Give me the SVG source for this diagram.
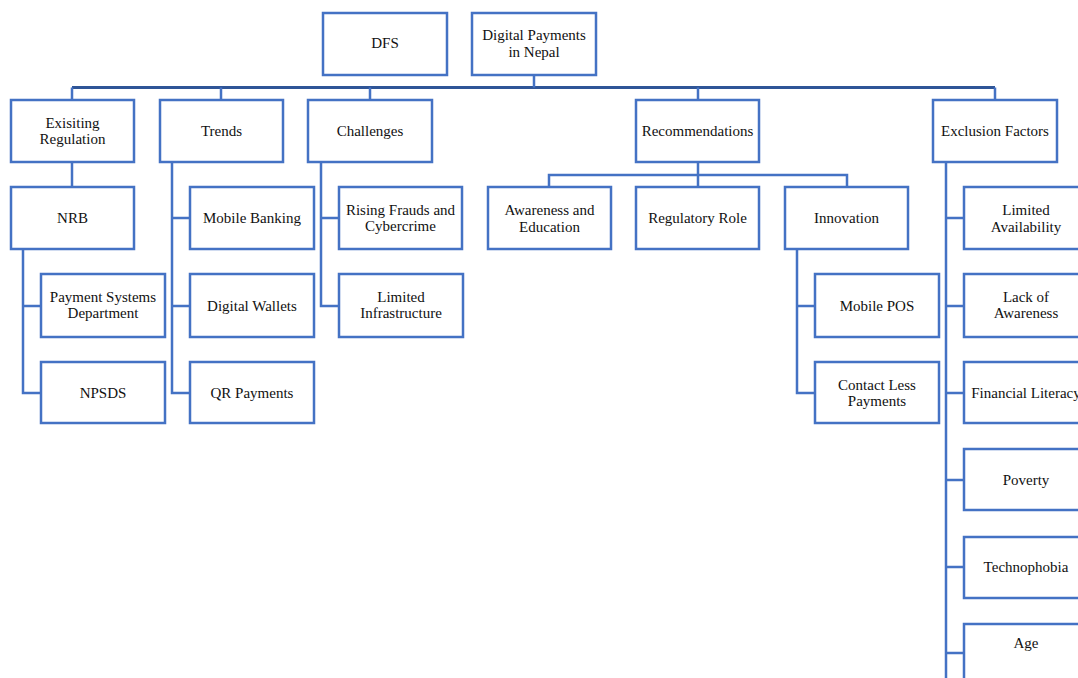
<svg xmlns="http://www.w3.org/2000/svg" width="1078" height="678" viewBox="0 0 1078 678">
  <style>
    .box { fill: #ffffff; stroke: #4472C4; stroke-width: 2.5; }
    .lbl { font-family: "Liberation Serif", "Times New Roman", serif; font-size: 15px; fill: #111111; text-anchor: middle; }
    .wire { fill: none; stroke: #4472C4; stroke-width: 2.5; }
    .bus { fill: none; stroke: #2F5597; stroke-width: 3; }
  </style>
  <rect width="1078" height="678" fill="#ffffff"/>

  <!-- connectors -->
  <g id="connectors">
    <path class="bus" d="M72 87.5 H995"/>
    <path class="wire" d="M534 75 V87.5"/>
    <path class="wire" d="M72 87.5 V100 M221 87.5 V100 M370 87.5 V100 M698 87.5 V100 M995 87.5 V100"/>
    <!-- Exisiting Regulation branch -->
    <path class="wire" d="M72 162 V187"/>
    <path class="wire" d="M23 249 V393 H41 M23 306 H41"/>
    <!-- Trends branch -->
    <path class="wire" d="M172 162 V393 H190 M172 218 H190 M172 306 H190"/>
    <!-- Challenges branch -->
    <path class="wire" d="M321 162 V306 H339 M321 218 H339"/>
    <!-- Recommendations branch -->
    <path class="wire" d="M698 162 V187 M549 187 V175 H847 V187"/>
    <path class="wire" d="M797 249 V393 H815 M797 306 H815"/>
    <!-- Exclusion Factors branch -->
    <path class="wire" d="M946 162 V690 M946 218 H964 M946 306 H964 M946 393 H964 M946 480 H964 M946 567 H964 M946 653 H964"/>
  </g>

  <!-- top -->
  <g id="dfs"><rect class="box" x="323" y="13" width="124" height="62"/><text class="lbl" x="385" y="48">DFS</text></g>
  <g id="digital-payments"><rect class="box" x="472" y="13" width="124" height="62"/><text class="lbl" x="534" y="40">Digital Payments</text><text class="lbl" x="534" y="57">in Nepal</text></g>

  <!-- level 1 -->
  <g id="existing-regulation"><rect class="box" x="11" y="100" width="123" height="62"/><text class="lbl" x="72.5" y="128">Exisiting</text><text class="lbl" x="72.5" y="144">Regulation</text></g>
  <g id="trends"><rect class="box" x="160" y="100" width="123" height="62"/><text class="lbl" x="221.5" y="136">Trends</text></g>
  <g id="challenges"><rect class="box" x="308" y="100" width="124" height="62"/><text class="lbl" x="370" y="136">Challenges</text></g>
  <g id="recommendations"><rect class="box" x="636" y="100" width="123" height="62"/><text class="lbl" x="697.5" y="136">Recommendations</text></g>
  <g id="exclusion-factors"><rect class="box" x="933" y="100" width="124" height="62"/><text class="lbl" x="995" y="136">Exclusion Factors</text></g>

  <!-- level 2 -->
  <g id="nrb"><rect class="box" x="11" y="187" width="123" height="62"/><text class="lbl" x="72.5" y="223">NRB</text></g>
  <g id="mobile-banking"><rect class="box" x="190" y="187" width="124" height="62"/><text class="lbl" x="252" y="223">Mobile Banking</text></g>
  <g id="rising-frauds"><rect class="box" x="339" y="187" width="123" height="62"/><text class="lbl" x="400.5" y="215">Rising Frauds and</text><text class="lbl" x="400.5" y="231">Cybercrime</text></g>
  <g id="awareness-education"><rect class="box" x="488" y="187" width="123" height="62"/><text class="lbl" x="549.5" y="215">Awareness and</text><text class="lbl" x="549.5" y="232">Education</text></g>
  <g id="regulatory-role"><rect class="box" x="636" y="187" width="123" height="62"/><text class="lbl" x="697.5" y="223">Regulatory Role</text></g>
  <g id="innovation"><rect class="box" x="785" y="187" width="123" height="62"/><text class="lbl" x="846.5" y="223">Innovation</text></g>
  <g id="limited-availability"><rect class="box" x="964" y="187" width="124" height="62"/><text class="lbl" x="1026" y="215">Limited</text><text class="lbl" x="1026" y="232">Availability</text></g>

  <!-- level 3 -->
  <g id="payment-systems"><rect class="box" x="41" y="274" width="124" height="63"/><text class="lbl" x="103" y="302">Payment Systems</text><text class="lbl" x="103" y="318">Department</text></g>
  <g id="digital-wallets"><rect class="box" x="190" y="274" width="124" height="63"/><text class="lbl" x="252" y="311">Digital Wallets</text></g>
  <g id="limited-infrastructure"><rect class="box" x="339" y="274" width="124" height="63"/><text class="lbl" x="401" y="302">Limited</text><text class="lbl" x="401" y="318">Infrastructure</text></g>
  <g id="mobile-pos"><rect class="box" x="815" y="274" width="124" height="63"/><text class="lbl" x="877" y="311">Mobile POS</text></g>
  <g id="lack-of-awareness"><rect class="box" x="964" y="274" width="124" height="63"/><text class="lbl" x="1026" y="302">Lack of</text><text class="lbl" x="1026" y="318">Awareness</text></g>

  <!-- level 4 -->
  <g id="npsds"><rect class="box" x="41" y="362" width="124" height="61"/><text class="lbl" x="103" y="398">NPSDS</text></g>
  <g id="qr-payments"><rect class="box" x="190" y="362" width="124" height="61"/><text class="lbl" x="252" y="398">QR Payments</text></g>
  <g id="contactless"><rect class="box" x="815" y="362" width="124" height="61"/><text class="lbl" x="877" y="390">Contact Less</text><text class="lbl" x="877" y="406">Payments</text></g>
  <g id="financial-literacy"><rect class="box" x="964" y="362" width="124" height="61"/><text class="lbl" x="1026" y="398">Financial Literacy</text></g>

  <!-- further exclusion factors -->
  <g id="poverty"><rect class="box" x="964" y="449" width="124" height="61"/><text class="lbl" x="1026" y="485">Poverty</text></g>
  <g id="technophobia"><rect class="box" x="964" y="537" width="124" height="61"/><text class="lbl" x="1026" y="572">Technophobia</text></g>
  <g id="age"><rect class="box" x="964" y="624" width="124" height="70"/><text class="lbl" x="1026" y="648">Age</text></g>
</svg>
